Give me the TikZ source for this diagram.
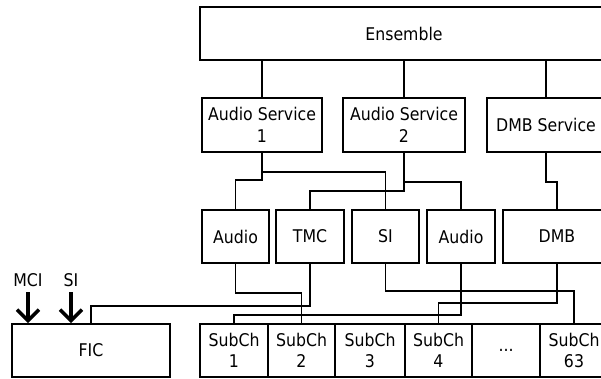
\documentclass[tikz,border=0pt]{standalone}
\usepackage{fontspec}
\setmainfont{DejaVu Sans}[FakeStretch=0.9]
\usetikzlibrary{arrows.meta}
\begin{document}
\begin{tikzpicture}[x=1pt,y=-1pt,
  box/.style={draw, line width=1.9pt, inner sep=0pt, align=center,
    font=\fontsize{17.5}{21.5}\selectfont},
  lbl/.style={inner sep=0pt, font=\fontsize{17.5}{21.5}\selectfont},
  wire/.style={line width=1.9pt},
  bigarrow/.style={line width=3.5pt, -{Straight Barb[length=11pt,width=22pt,line width=3.5pt]}}]
\clip (0,0) rectangle (601,379);
% top
\node[box, minimum width=408pt, minimum height=53pt] (ens) at (404,33.5) {Ensemble};
\node[box, minimum width=120pt, minimum height=54pt] (as1) at (262,125) {Audio Service\\1};
\node[box, minimum width=122pt, minimum height=54pt] (as2) at (404,125) {Audio Service\\2};
\node[box, minimum width=118pt, minimum height=54pt] (dmbs) at (546,125) {DMB Service};
% middle
\node[box, minimum width=67pt, minimum height=53pt] (au1) at (235.5,236.5) {Audio};
\node[box, minimum width=68pt, minimum height=53pt] (tmc) at (310,236.5) {TMC};
\node[box, minimum width=67pt, minimum height=53pt] (si) at (385.5,236.5) {SI};
\node[box, minimum width=68pt, minimum height=53pt] (au2) at (461,236.5) {Audio};
\node[box, minimum width=108pt, minimum height=53pt] (dmb) at (557,236.5) {DMB};
% bottom
\node[box, minimum width=158pt, minimum height=53pt] (fic) at (91,350.5) {FIC};
\node[box, minimum width=68pt, minimum height=53pt] (sc1) at (234,350.5) {SubCh\\1};
\node[box, minimum width=67pt, minimum height=53pt] (sc2) at (301.5,350.5) {SubCh\\2};
\node[box, minimum width=70pt, minimum height=53pt] (sc3) at (370,350.5) {SubCh\\3};
\node[box, minimum width=67pt, minimum height=53pt] (sc4) at (438.5,350.5) {SubCh\\4};
\node[box, minimum width=68pt, minimum height=53pt] (scd) at (506,350.5) {...};
\node[box, minimum width=68pt, minimum height=53pt] (sc63) at (574,350.5) {SubCh\\63};
% labels
\node[lbl] (mcil) at (28,280) {MCI};
\node[lbl] (sil) at (71,280) {SI};
\draw[bigarrow] (mcil.south |- 0,292) -- (mcil.south |- fic.north);
\draw[bigarrow] (sil.south |- 0,292) -- (sil.south |- fic.north);
% ensemble to services
\draw[wire] (as1.north) -- (as1.north |- ens.south);
\draw[wire] (as2.north) -- (as2.north |- ens.south);
\draw[wire] (dmbs.north) -- (dmbs.north |- ens.south);
% services to components
\draw[wire] (as1.south) -- (as1.south |- 0,172) -| (si.north);
\draw[wire] (as1.south |- 0,172) -- (as1.south |- 0,180) -| (au1.north);
\draw[wire] (as2.south) -- (as2.south |- 0,191) -| (tmc.north);
\draw[wire] (as2.south |- 0,182) -| (au2.north);
\draw[wire] (dmbs.south) -- (dmbs.south |- 0,182) -| (dmb.north);
% components to subchannels
\draw[wire] (au1.south) |- (sc2.north |- 0,293) -- (sc2.north);
\draw[wire] (tmc.south) |- (fic.north |- 0,306) -- (fic.north);
\draw[wire] (si.south) |- (sc63.north |- 0,291) -- (sc63.north);
\draw[wire] (au2.south) |- (sc1.north |- 0,315) -- (sc1.north);
\draw[wire] (dmb.south) |- (sc4.north |- 0,303) -- (sc4.north);
\end{tikzpicture}
\end{document}
